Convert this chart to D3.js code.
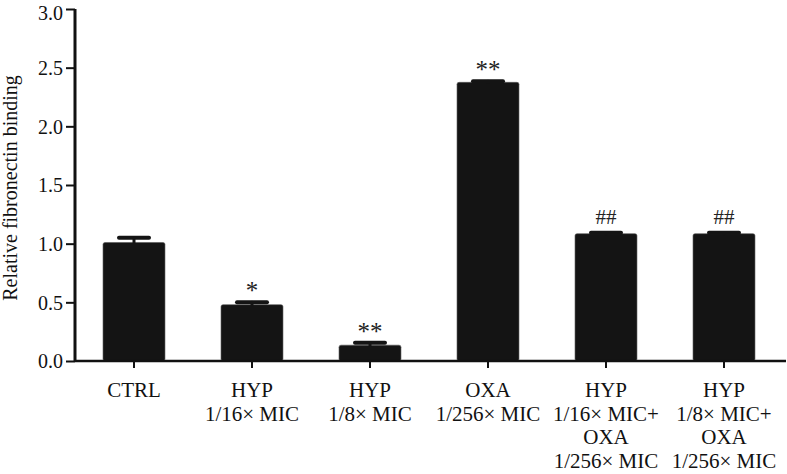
<!DOCTYPE html>
<html><head><meta charset="utf-8">
<script src="https://cdn.jsdelivr.net/npm/d3@7/dist/d3.min.js"></script>
<style>
body{margin:0;background:#fff;}
text{font-family:"Liberation Serif","Times New Roman",serif;fill:#111;}
</style></head>
<body><svg id="c" width="787" height="474"></svg>
<script>
const categories = ["CTRL","HYP 1/16","HYP 1/8","OXA 1/256","HYP 1/16 + OXA","HYP 1/8 + OXA"];
const labelLines = [["CTRL"],["HYP","1/16\u00d7 MIC"],["HYP","1/8\u00d7 MIC"],["OXA","1/256\u00d7 MIC"],["HYP","1/16\u00d7 MIC+","OXA","1/256\u00d7 MIC"],["HYP","1/8\u00d7 MIC+","OXA","1/256\u00d7 MIC"]];
const values = [1.01, 0.48, 0.135, 2.375, 1.085, 1.085];
const errors = [0.04, 0.02, 0.02, 0.01, 0.008, 0.008];
const marks = ["", "*", "**", "**", "##", "##"];
const yTicks = [0, 0.5, 1.0, 1.5, 2.0, 2.5, 3.0];

const svg = d3.select("#c");
const x = d3.scaleBand().domain(categories).range([75, 783]).paddingInner(0.475).paddingOuter(0.2375);
const y = d3.scaleLinear().domain([0, 3]).range([361, 9]);

// bars
svg.append("g").selectAll("rect").data(categories).join("rect")
  .attr("x", d => x(d)).attr("width", x.bandwidth())
  .attr("y", (d,i) => y(values[i])).attr("height", (d,i) => y(0) - y(values[i]))
  .attr("rx", 2).attr("fill", "#141414").attr("stroke", "#555").attr("stroke-width", 0.6);

// error bars
const eg = svg.append("g").attr("stroke", "#141414").attr("stroke-linecap", "round");
categories.forEach((c, i) => {
  const cx = x(c) + x.bandwidth()/2;
  eg.append("line").attr("x1", cx).attr("x2", cx).attr("y1", y(values[i])).attr("y2", y(values[i]+errors[i])).attr("stroke-width", 3);
  eg.append("line").attr("x1", cx-15).attr("x2", cx+15).attr("y1", y(values[i]+errors[i])).attr("y2", y(values[i]+errors[i])).attr("stroke-width", 4);
});

// significance marks
svg.append("g").selectAll("text").data(categories).join("text")
  .attr("x", d => x(d) + x.bandwidth()/2)
  .attr("y", (d,i) => y(values[i]+errors[i]) - (marks[i][0] === "#" ? 9 : 3))
  .attr("text-anchor", "middle")
  .style("font-size", (d,i) => marks[i][0] === "#" ? "21px" : "25px").style("fill", "#222")
  .text((d,i) => marks[i]);

// y axis
const ya = svg.append("g").attr("transform", "translate(75,0)")
  .call(d3.axisLeft(y).tickValues(yTicks).tickFormat(d3.format(".1f")).tickSize(9).tickSizeOuter(0).tickPadding(3));
ya.select(".domain").remove();
ya.selectAll(".tick line").attr("stroke", "#111").attr("stroke-width", 2);
ya.selectAll(".tick text").style("font-size", "20px").style("font-family", "Liberation Serif").attr("fill", "#111")
  .attr("dy", d => d === 3 ? "0.5em" : "0.34em");
svg.append("line").attr("x1", 75).attr("x2", 75).attr("y1", y(3)).attr("y2", y(0)+1).attr("stroke", "#111").attr("stroke-width", 3);

// x axis
const xa = svg.append("g").attr("transform", `translate(0,${y(0)})`)
  .call(d3.axisBottom(x).tickSize(7).tickSizeOuter(0).tickFormat(""));
xa.select(".domain").remove();
xa.selectAll(".tick line").attr("stroke", "#111").attr("stroke-width", 2);
svg.append("line").attr("x1", 75).attr("x2", 786).attr("y1", y(0)).attr("y2", y(0)).attr("stroke", "#111").attr("stroke-width", 2.5);

// category labels
const lg = svg.append("g");
categories.forEach((c, i) => {
  const t = lg.append("text").attr("x", x(c) + x.bandwidth()/2).attr("y", 397)
    .attr("text-anchor", "middle").style("font-size", "21px");
  labelLines[i].forEach((ln, j) => {
    t.append("tspan").attr("x", x(c) + x.bandwidth()/2).attr("dy", j === 0 ? 0 : 23.5).text(ln);
  });
});

// y title
svg.append("text").attr("transform", "translate(17,188) rotate(-90)")
  .attr("text-anchor", "middle").style("font-size", "20px").text("Relative fibronectin binding");
</script></body></html>
